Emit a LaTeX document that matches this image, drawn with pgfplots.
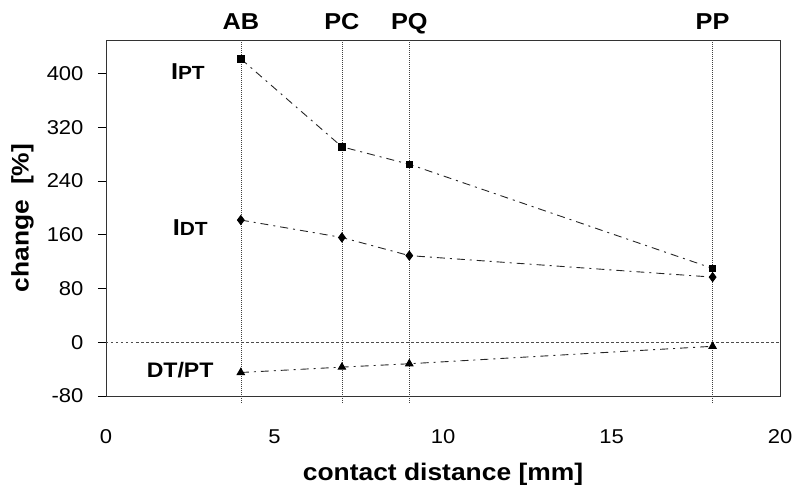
\documentclass[border=0pt]{standalone}
\usepackage{fontspec}
\setmainfont{Liberation Sans}[FakeStretch=1.1]
\usepackage{pgfplots}
\pgfplotsset{compat=1.18}

% measured change per electrode configuration
\pgfplotstableread{
x   ipt   idt   ratio
4   422   182   -45
7   291   156   -37
9   265   129   -32
18  110    97    -6
}\changedata

\begin{document}
\begin{tikzpicture}
\path[use as bounding box] (-106pt,-91pt) rectangle (688pt,396pt);
\begin{axis}[
  scale only axis,
  width=674pt, height=356pt,
  xmin=0, xmax=20, ymin=-80, ymax=450,
  xtick={0,5,10,15,20},
  ytick={-80,0,80,160,240,320,400},
  /pgf/number format/assume math mode=true,
  tick label style={font=\fontsize{20}{20}\selectfont},
  xtick style={draw=none},
  xticklabel style={yshift=-22pt},
  ytick pos=left,
  tick align=outside,
  major tick length=8pt,
  ytick style={line width=0.8pt, black},
  yticklabel style={xshift=-11pt},
  axis line style={line width=0.9pt, black!80},
  xlabel={\textbf{contact distance [mm]}},
  ylabel={\textbf{change\ \ [\%]}},
  label style={font=\fontsize{24}{24}\selectfont},
  xlabel style={at={(axis description cs:0.5,-0.238)}, anchor=base},
  ylabel style={at={(axis description cs:-0.124,0.5)}, anchor=center},
  clip=false,
  series/.style={black!85, line width=0.9pt,
    dash pattern=on 8pt off 5pt on 2pt off 5pt, mark options={solid, black}},
]
% reference lines
\addplot[black!70, line width=0.6pt, dash pattern=on 2.5pt off 2.5pt] coordinates {(0,0) (20,0)};
\foreach \xv in {4,7,9,18} {
  \edef\tmp{\noexpand\addplot[black!75, line width=0.5pt, dash pattern=on 1pt off 1pt] coordinates {(\xv,-90) (\xv,450)};}
  \tmp
}
% series
\addplot[series, mark=square*, mark size=3.3pt] table[x=x, y=ipt] {\changedata};
\addplot[series, mark=diamond*, mark size=4.5pt] table[x=x, y=idt] {\changedata};
\addplot[series, mark=triangle*, mark size=4.2pt] table[x=x, y=ratio] {\changedata};
% electrode labels
\foreach \xv/\lab in {4/AB, 7/PC, 9/PQ, 18/PP} {
  \edef\tmp{\noexpand\node[anchor=base, yshift=10.7pt, font=\noexpand\fontsize{23}{23}\noexpand\selectfont\noexpand\bfseries] at (axis cs:\xv,450) {\lab};}
  \tmp
}
% series labels
\node[font=\bfseries] at (axis cs:2.43,403) {{\fontsize{23}{23}\selectfont I}{\fontsize{19}{19}\selectfont PT}};
\node[font=\bfseries] at (axis cs:2.5,170) {{\fontsize{23}{23}\selectfont I}{\fontsize{19}{19}\selectfont DT}};
\node[font=\bfseries] at (axis cs:2.2,-42) {\fontsize{21}{21}\selectfont DT/PT};
\end{axis}
\end{tikzpicture}
\end{document}
